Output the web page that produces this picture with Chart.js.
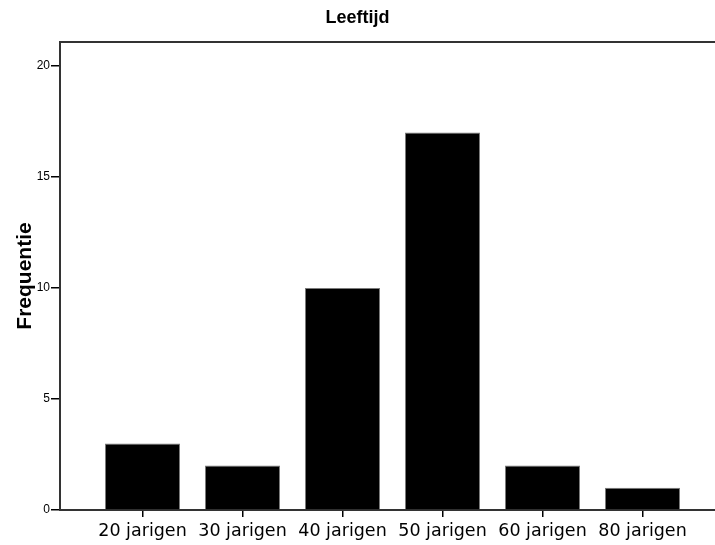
<!DOCTYPE html>
<html>
<head>
<meta charset="utf-8">
<script src="https://cdn.jsdelivr.net/npm/chart.js@4/dist/chart.umd.min.js"></script>
<style>
  html, body { margin: 0; padding: 0; background: #fff; }
  #wrap { width: 715px; height: 545px; }
</style>
</head>
<body>
<div id="wrap"><canvas id="c" width="715" height="545"></canvas></div>
<script>
const categories = ["20 jarigen", "30 jarigen", "40 jarigen", "50 jarigen", "60 jarigen", "80 jarigen"];
const frequencies = [3, 2, 10, 17, 2, 1];
const yTicks = [0, 5, 10, 15, 20];
const chartTitle = "Leeftijd";
const yTitle = "Frequentie";

const points = categories.map((c, i) => ({ x: i, y: frequencies[i] }));

const topLine = {
  id: 'topLine',
  afterDraw(chart) {
    const { ctx, chartArea } = chart;
    ctx.save();
    ctx.strokeStyle = '#333333';
    ctx.lineWidth = 2;
    ctx.beginPath();
    ctx.moveTo(chartArea.left - 1, chartArea.top);
    ctx.lineTo(chartArea.right, chartArea.top);
    ctx.stroke();
    ctx.restore();
  }
};

new Chart(document.getElementById('c'), {
  type: 'bar',
  data: {
    datasets: [{
      data: points,
      backgroundColor: '#000000',
      borderColor: '#7a7a7a',
      borderWidth: 1,
      barPercentage: 0.75,
      categoryPercentage: 1.0
    }]
  },
  plugins: [topLine],
  options: {
    responsive: false,
    animation: false,
    layout: { padding: { left: 0, right: 0, top: 0, bottom: 0 } },
    plugins: {
      legend: { display: false },
      tooltip: { enabled: false },
      title: {
        display: true,
        text: chartTitle,
        color: '#000',
        font: { family: '"Liberation Sans", Arial, sans-serif', size: 18, weight: 'bold' },
        padding: { top: 7, bottom: 13.4 }
      }
    },
    scales: {
      x: {
        type: 'linear',
        offset: false,
        min: -0.825,
        max: 5.725,
        afterBuildTicks: s => { s.ticks = categories.map((c, i) => ({ value: i })); },
        afterFit: s => { s.height = 35; },
        grid: { display: true, offset: false, drawOnChartArea: false, drawTicks: true, tickLength: 7, color: '#000', lineWidth: 1.5 },
        border: { display: true, color: '#333333', width: 2 },
        ticks: {
          padding: 4,
          color: '#000',
          maxRotation: 0,
          autoSkip: false,
          font: { family: '"DejaVu Sans", Verdana, sans-serif', size: 17.5 },
          callback: v => categories[v] !== undefined ? categories[v] : ''
        }
      },
      y: {
        min: 0,
        max: 21.08,
        afterBuildTicks: s => { s.ticks = yTicks.map(v => ({ value: v })); },
        afterFit: s => { s.width = 60; },
        grid: { display: true, drawOnChartArea: false, drawTicks: true, tickLength: 9, color: '#000', lineWidth: 1.5 },
        border: { display: true, color: '#333333', width: 2 },
        ticks: {
          padding: 1,
          color: '#000',
          font: { family: '"Liberation Sans", Arial, sans-serif', size: 12 }
        },
        title: {
          display: true,
          text: yTitle,
          color: '#000',
          font: { family: '"Liberation Sans", Arial, sans-serif', size: 21, weight: 'bold' },
          padding: { top: 13, bottom: 0 }
        }
      }
    }
  }
});
</script>
</body>
</html>
